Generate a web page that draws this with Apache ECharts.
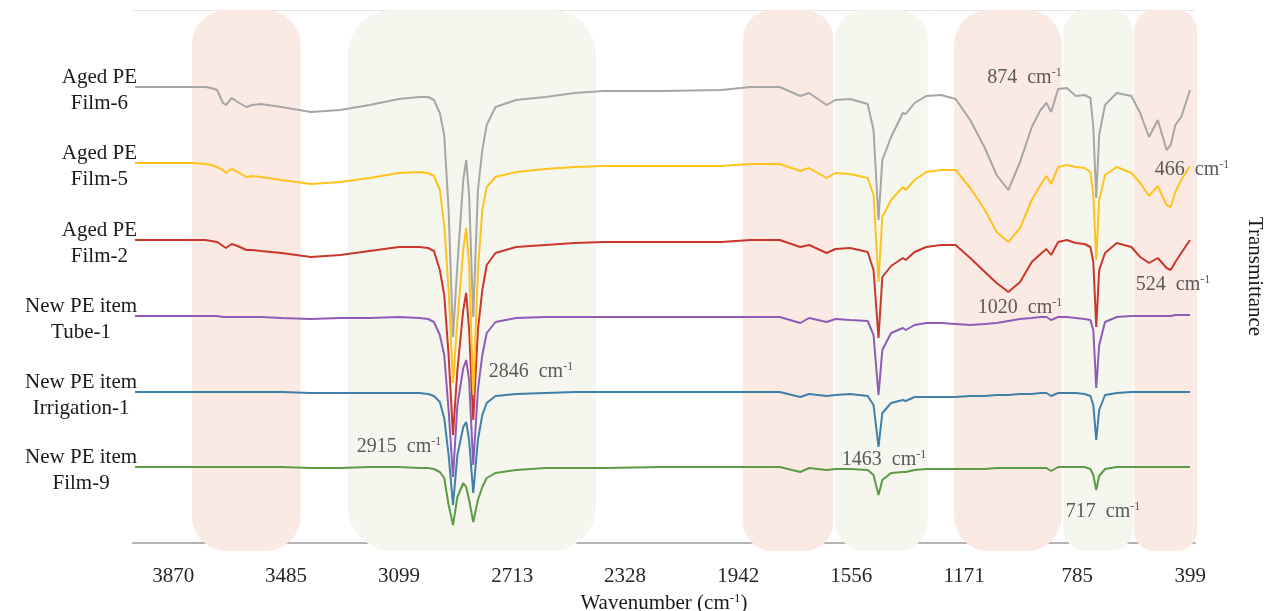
<!DOCTYPE html>
<html><head><meta charset="utf-8">
<script src="https://cdn.jsdelivr.net/npm/echarts@6/dist/echarts.min.js"></script>
<style>html,body{margin:0;padding:0;background:#fff}#c{width:1266px;height:611px}</style>
</head><body><div id="c"></div>
<script>
// Wavenumber grid (cm-1)
const wavenumbers = [
  4000,3900,3820,3800,3760,3740,3720,3700,3690,3670,3650,3620,3600,3570,
  3500,3400,3300,3200,3100,3030,3000,2980,2960,2945,2930,2915,2900,2880,2870,2860,2846,2830,2815,2800,2770,
  2700,2600,2500,2400,2200,2000,1900,1800,1730,1700,1640,1610,1560,1500,1480,1463,1450,1420,1380,1370,1340,1300,
  1250,1200,1150,1100,1060,1020,980,940,910,890,874,850,820,790,760,740,730,720,710,690,650,600,570,540,510,480,466,450,430,400
];
// Offset transmittance (a.u.)
const film6 = [
  456,456,456,456,456,455,453,440,438,445,441,436,438,439,
  436,431,433,438,444,446,446,443,430,408,333,206,278,363,383,348,226,353,393,418,436,
  443,446,450,452,452,453,456,456,447,450,438,443,444,439,413,323,383,406,430,429,440,447,
  448,444,423,395,368,353,381,416,433,440,431,454,455,447,448,445,416,345,408,438,450,447,430,406,423,393,398,418,426,453
];
const film5 = [
  380,380,380,380,379,378,376,373,370,374,371,366,367,366,
  363,359,361,365,370,371,370,367,353,318,253,160,223,293,315,278,148,273,333,356,366,
  371,374,376,377,377,377,379,379,372,375,365,370,369,365,348,261,326,343,356,353,363,371,
  373,373,355,333,311,301,315,343,358,367,359,376,378,376,375,371,348,283,343,368,376,370,360,347,357,338,336,351,363,377
];
const film2 = [
  303,303,303,303,303,302,301,297,295,299,297,293,293,292,
  290,286,288,292,296,296,295,292,273,248,188,108,173,233,250,213,123,213,253,278,290,
  296,298,300,301,301,301,303,303,296,298,290,294,295,291,273,205,266,277,285,283,291,296,
  298,298,285,271,260,251,261,281,289,294,288,301,303,300,299,296,281,216,273,290,300,296,286,280,285,275,273,281,290,303
];
const tube1 = [
  227,227,227,227,227,227,227,226,226,226,226,226,226,226,
  225,224,225,225,226,225,224,221,208,188,133,66,138,175,183,163,78,153,188,210,221,
  225,226,226,226,226,226,226,226,220,225,221,224,223,222,208,148,193,210,215,213,218,220,
  220,219,218,219,220,222,224,225,226,226,223,226,226,225,224,223,213,155,198,221,226,227,227,227,227,227,227,228,228,228
];
const irrigation1 = [
  151,151,151,151,151,151,151,151,151,151,151,151,151,151,
  151,150,150,150,150,150,149,147,141,125,88,38,88,116,121,103,50,103,128,140,147,
  149,150,151,151,151,151,151,151,146,149,147,148,149,147,138,96,130,140,143,142,146,146,
  146,146,147,147,148,148,149,149,150,150,147,150,150,150,149,147,138,103,133,148,150,151,151,151,151,151,151,151,151,151
];
const film9 = [
  76,76,76,76,76,76,76,76,76,76,76,76,76,76,
  76,75,75,76,76,75,75,74,71,65,38,18,46,60,56,43,21,43,56,65,70,
  73,75,75,75,76,76,76,76,71,75,73,74,74,73,68,48,63,70,71,71,73,74,
  74,74,74,74,75,75,75,75,75,75,72,76,76,76,76,74,68,53,67,74,76,76,76,76,76,76,76,76,76,76
];
const seriesNames = ['Aged PE\nFilm-6','Aged PE\nFilm-5','Aged PE\nFilm-2','New PE item\nTube-1','New PE item\nIrrigation-1','New PE item\nFilm-9'];
const seriesValues = [film6, film5, film2, tube1, irrigation1, film9];
const seriesColors = ['#a6a6a6','#ffc21f','#c9372c','#8e5cb8','#3f7fa8','#5c9b45'];
const tickLabels = [3870,3485,3099,2713,2328,1942,1556,1171,785,399];
// highlighted regions [from, to, kind]
const bands = [[3806,3435,0],[3274,2427,1],[1926,1617,0],[1611,1295,1],[1205,838,0],[832,594,1],[591,376,0]];
// peak annotations [label, wavenumber, value]
const annotations = [['874',965,465],['466',393,373],['524',458,258],['1020',980,235],['2846',2649,171],['2915',3099,96],['1463',1444,83],['717',697,31]];

const FONT = "'Liberation Serif', 'Times New Roman', serif";
const chart = echarts.init(document.getElementById('c'));

const lineSeries = seriesValues.map((vals, i) => ({
  type: 'line', name: seriesNames[i].replace('\n', ' '),
  data: wavenumbers.map((w, j) => [w, vals[j]]),
  showSymbol: false, symbol: 'none', smooth: false,
  lineStyle: { color: seriesColors[i], width: 2 },
  itemStyle: { color: seriesColors[i] },
  z: 2 + (seriesValues.length - i) * 0.01
})).reverse();

const option = {
  animation: false,
  backgroundColor: '#ffffff',
  grid: { left: 133, right: 71, top: 10, bottom: 68, containLabel: false, outerBoundsMode: 'none' },
  xAxis: {
    type: 'value', inverse: true, min: 383, max: 4007,
    axisLine: { show: true, lineStyle: { color: '#b3b3b3', width: 2 } },
    axisTick: { show: false },
    splitLine: { show: false },
    axisLabel: { customValues: tickLabels, formatter: v => String(v), margin: 23, color: '#262626', fontSize: 21, fontFamily: FONT },
    name: '{a|Wavenumber (cm}{s|-1}{a|)}',
    nameLocation: 'middle', nameGap: 46,
    nameTextStyle: {
      rich: {
        a: { fontSize: 21, fontFamily: FONT, color: '#1a1a1a', lineHeight: 24 },
        s: { fontSize: 13, fontFamily: FONT, color: '#1a1a1a', verticalAlign: 'top', lineHeight: 13 }
      }
    }
  },
  yAxis: {
    type: 'value', min: 0, max: 533, interval: 533, position: 'right',
    axisLine: { show: false }, axisTick: { show: false }, axisLabel: { show: false },
    splitLine: { show: true, lineStyle: { color: '#e2e2e2', width: 1 } },
    name: 'Transmittance', nameLocation: 'middle', nameRotate: -90, nameGap: 49,
    nameTextStyle: { fontSize: 21, fontFamily: FONT, color: '#1a1a1a' }
  },
  series: [
    {
      type: 'custom', name: 'bands', z: 1, clip: false, silent: true,
      data: bands, encode: { x: [0, 1], y: 2 },
      renderItem: (params, api) => {
        const a = api.coord([api.value(0), 533]);
        const b = api.coord([api.value(1), -8]);
        const x = Math.min(a[0], b[0]);
        const w = Math.abs(b[0] - a[0]);
        const y = Math.min(a[1], b[1]);
        const h = Math.abs(b[1] - a[1]);
        const r = Math.min(45, w * 0.32);
        return { type: 'rect', shape: { x: x, y: y, width: w, height: h, r: r },
          style: { fill: api.value(2) === 0 ? '#fbeae4' : '#f5f7ee' } };
      }
    },
    ...lineSeries,
    {
      type: 'custom', name: 'seriesLabels', z: 5, clip: false, silent: true,
      data: seriesValues.map((vals, i) => [wavenumbers[0], vals[0], i]),
      encode: { x: 0, y: 1 },
      renderItem: (params, api) => {
        const p = api.coord([api.value(0), api.value(1)]);
        const lines = seriesNames[params.dataIndex].split('\n').map(s => '{a|' + s + '}').join('\n');
        return { type: 'text', x: p[0] + 2, y: p[1] + 3,
          style: { text: lines, align: 'right', verticalAlign: 'middle',
            rich: { a: { align: 'center', fontSize: 21, fontFamily: FONT, lineHeight: 26, fill: '#1a1a1a' } } } };
      }
    },
    {
      type: 'custom', name: 'annotations', z: 6, clip: false, silent: true,
      data: annotations.map(a => [a[1], a[2]]),
      encode: { x: 0, y: 1 },
      renderItem: (params, api) => {
        const p = api.coord([api.value(0), api.value(1)]);
        const t = annotations[params.dataIndex][0];
        return { type: 'text', x: p[0], y: p[1],
          style: { text: '{a|' + t + '  cm}{s|-1}', align: 'center', verticalAlign: 'middle',
            rich: {
              a: { fontSize: 20, fontFamily: FONT, fill: '#595959', lineHeight: 23 },
              s: { fontSize: 12, fontFamily: FONT, fill: '#595959', verticalAlign: 'top', lineHeight: 12 }
            } } };
      }
    }
  ]
};
chart.setOption(option);
</script>
</body></html>
